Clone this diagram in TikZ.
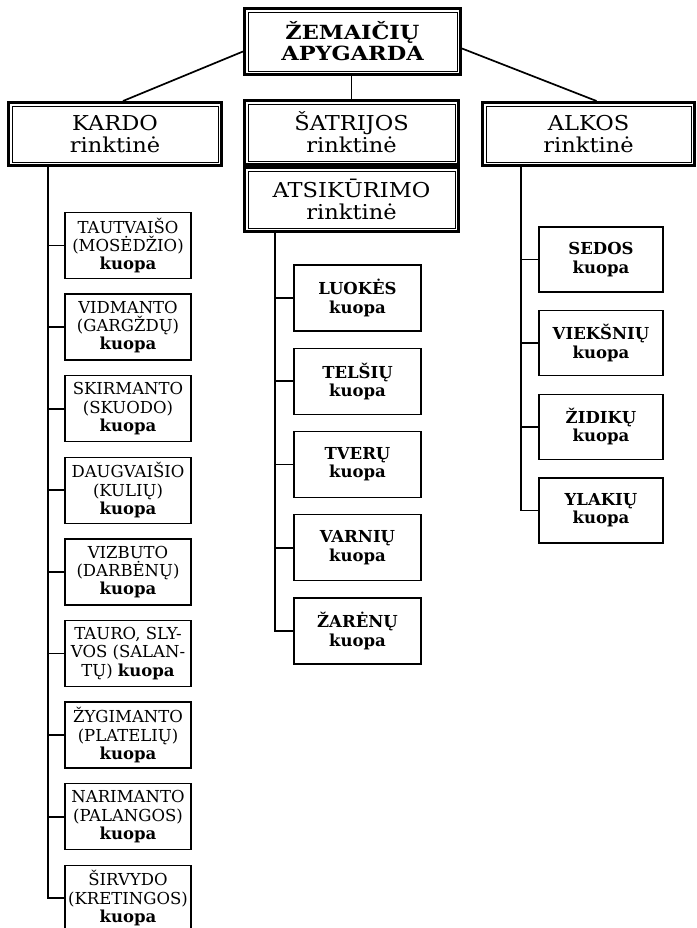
\documentclass[tikz,border=0pt]{standalone}
\usepackage{fontspec}
\setmainfont{DejaVu Serif}[FakeStretch=1.1]
\newfontfamily\kfont{DejaVu Serif}[FakeStretch=1.0]
\newfontfamily\tfont{DejaVu Serif}[FakeStretch=1.15]
\tikzset{
  framed/.style={draw, line width=0.8pt, fill=white, align=center, outer sep=5pt, inner sep=0pt,
    font=\fontsize{20.5}{22}\selectfont},
  frm/.style={line width=2.6pt},
  kbox/.style={draw, line width=1.3pt, align=center, minimum width=126pt, minimum height=66pt,
    inner sep=0pt, font=\kfont\fontsize{16.5}{18.3}\selectfont},
  conn/.style={line width=1.7pt}
}
\begin{document}
\begin{tikzpicture}[x=1pt,y=-1pt]
\useasboundingbox (0,0) rectangle (696,928);
% top level
\node[framed, minimum width=209pt, minimum height=59pt, font=\tfont\bfseries\fontsize{19.5}{21}\selectfont] (apy) at (352.5,41.5) {ŽEMAIČIŲ\\APYGARDA};
\node[framed, minimum width=206pt, minimum height=56pt] (kardo) at (115,134) {KARDO\\rinktinė};
\node[framed, minimum width=207pt, minimum height=57pt] (sat) at (351.5,132.5) {ŠATRIJOS\\rinktinė};
\node[framed, minimum width=207pt, minimum height=57pt] (ats) at (351.5,199.5) {ATSIKŪRIMO\\rinktinė};
\node[framed, minimum width=205pt, minimum height=56pt] (alkos) at (588.5,134) {ALKOS\\rinktinė};
\foreach \n in {apy,kardo,sat,ats,alkos}
  \draw[frm] ([shift={(1.3pt,-1.3pt)}]\n.north west) rectangle ([shift={(-1.3pt,1.3pt)}]\n.south east);
% connectors from top
\draw[conn] ([yshift=-10pt]apy.west) -- ([xshift=8pt]kardo.north);
\draw[conn] (apy.south -| sat.north) -- (sat.north);
\draw[conn] ([yshift=-7pt]apy.east) -- ([xshift=8pt]alkos.north);
% Kardo column
\node[kbox] (k1) at (128,245.5) {TAUTVAIŠO\\(MOSĖDŽIO)\\\textbf{kuopa}};
\node[kbox] (k2) at (128,327.1) {VIDMANTO\\(GARGŽDŲ)\\\textbf{kuopa}};
\node[kbox] (k3) at (128,408.7) {SKIRMANTO\\(SKUODO)\\\textbf{kuopa}};
\node[kbox] (k4) at (128,490.3) {DAUGVAIŠIO\\(KULIŲ)\\\textbf{kuopa}};
\node[kbox] (k5) at (128,571.9) {VIZBUTO\\(DARBĖNŲ)\\\textbf{kuopa}};
\node[kbox] (k6) at (128,653.5) {TAURO, SLY-\\VOS (SALAN-\\TŲ) \textbf{kuopa}};
\node[kbox] (k7) at (128,735.1) {ŽYGIMANTO\\(PLATELIŲ)\\\textbf{kuopa}};
\node[kbox] (k8) at (128,816.7) {NARIMANTO\\(PALANGOS)\\\textbf{kuopa}};
\node[kbox] (k9) at (128,898.3) {ŠIRVYDO\\(KRETINGOS)\\\textbf{kuopa}};
\coordinate (kt) at (48,0);
\draw[conn] (kardo.south -| kt) |- (k9.west);
\foreach \i in {1,...,8} \draw[conn] (kt |- k\i.west) -- (k\i.west);
% middle column
\node[kbox, minimum width=127pt] (m1) at (357.5,298) {\textbf{LUOKĖS}\\\textbf{kuopa}};
\node[kbox, minimum width=127pt] (m2) at (357.5,381.25) {\textbf{TELŠIŲ}\\\textbf{kuopa}};
\node[kbox, minimum width=127pt] (m3) at (357.5,464.5) {\textbf{TVERŲ}\\\textbf{kuopa}};
\node[kbox, minimum width=127pt] (m4) at (357.5,547.75) {\textbf{VARNIŲ}\\\textbf{kuopa}};
\node[kbox, minimum width=127pt] (m5) at (357.5,631) {\textbf{ŽARĖNŲ}\\\textbf{kuopa}};
\coordinate (mt) at (275,0);
\draw[conn] (ats.south -| mt) |- (m5.west);
\foreach \i in {1,...,4} \draw[conn] (mt |- m\i.west) -- (m\i.west);
% right column
\node[kbox, minimum width=124pt, minimum height=65pt] (r1) at (601,259.5) {\textbf{SEDOS}\\\textbf{kuopa}};
\node[kbox, minimum width=124pt, minimum height=65pt] (r2) at (601,343.2) {\textbf{VIEKŠNIŲ}\\\textbf{kuopa}};
\node[kbox, minimum width=124pt, minimum height=65pt] (r3) at (601,426.8) {\textbf{ŽIDIKŲ}\\\textbf{kuopa}};
\node[kbox, minimum width=124pt, minimum height=65pt] (r4) at (601,510.5) {\textbf{YLAKIŲ}\\\textbf{kuopa}};
\coordinate (rt) at (521,0);
\draw[conn] (alkos.south -| rt) |- (r4.west);
\foreach \i in {1,...,3} \draw[conn] (rt |- r\i.west) -- (r\i.west);
\end{tikzpicture}
\end{document}
